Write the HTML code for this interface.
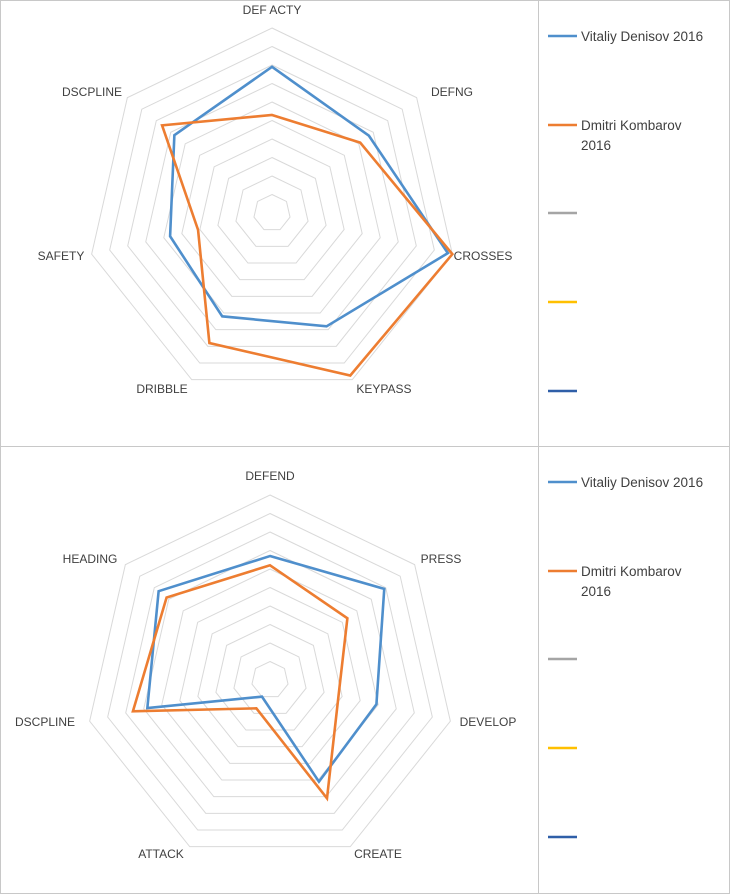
<!DOCTYPE html>
<html><head><meta charset="utf-8"><style>
html,body{margin:0;padding:0;background:#fff;width:730px;height:894px;overflow:hidden;font-family:"Liberation Sans",sans-serif}
svg{display:block}
</style></head><body>
<svg id="root" width="730" height="894">
<rect x="0.5" y="0.5" width="729" height="893" fill="#fff" stroke="#c8c8c8"/>
<line x1="0" y1="446.5" x2="730" y2="446.5" stroke="#c8c8c8"/>
<line x1="538.5" y1="0" x2="538.5" y2="894" stroke="#c8c8c8"/>
<g id="c1"></g>
<g id="c2"></g>
</svg>
<script>
const cats1 = ["DEF ACTY","DEFNG","CROSSES","KEYPASS","DRIBBLE","SAFETY","DSCPLINE"];
const denisov1 = [7.9,6.7,9.75,6.8,6.2,5.65,6.75];
const kombarov1 = [5.3,6.1,10,9.75,7.8,4.1,7.6];
const cats2 = ["DEFEND","PRESS","DEVELOP","CREATE","ATTACK","DSCPLINE","HEADING"];
const denisov2 = [6.7,7.9,5.9,6.1,1.0,6.8,7.7];
const kombarov2 = [6.2,5.35,3.8,7.1,1.7,7.6,7.15];
const legendNames = ["Vitaliy Denisov 2016","Dmitri Kombarov 2016","","",""];
const legendColors = ["#4f8fcc","#ed7d31","#a5a5a5","#ffc000","#2f5fa8"];
const maxVal = 10, rings = 10;
const NS="http://www.w3.org/2000/svg";
function mk(t,a,p){const e=document.createElementNS(NS,t);for(const k in a)e.setAttribute(k,a[k]);p.appendChild(e);return e;}
function drawRadar(g,cx,cy,R,cats,series,labelPos,legendY){
  const n=cats.length;
  const ang=i=>(-90+i*360/n)*Math.PI/180;
  const pt=(i,v)=>[cx+R*v/maxVal*Math.cos(ang(i)),cy+R*v/maxVal*Math.sin(ang(i))];
  for(let r=1;r<=rings;r++){
    const pts=cats.map((c,i)=>pt(i,r*maxVal/rings).join(",")).join(" ");
    const e=mk("polygon",{points:pts,fill:"none",stroke:"#d9d9d9","stroke-width":1},g);
    
    
  }
  cats.forEach((c,i)=>{
    const t=mk("text",{x:labelPos[i][0],y:labelPos[i][1],"text-anchor":"middle","font-size":"12",fill:"#404040"},g);
    t.textContent=c;
    
    
  });
  series.forEach((s,k)=>{
    const pts=s.map((v,i)=>pt(i,v).join(",")).join(" ");
    const e=mk("polygon",{points:pts,fill:"none",stroke:legendColors[k],"stroke-width":2.6,"stroke-linejoin":"miter"},g);
    
    
  });
  const ys=[0,89,177,266,355];
  legendNames.forEach((nm,k)=>{
    const y=legendY+ys[k];
    const l=mk("line",{x1:548,y1:y,x2:577,y2:y,stroke:legendColors[k],"stroke-width":2.6},g);
    
    
    if(nm){
      const t=mk("text",{x:581,y:y+5,"font-size":"13.5",fill:"#404040"},g);
      
      
      if(k===1){
        const a=mk("tspan",{x:581},t);a.textContent="Dmitri Kombarov";
        const b=mk("tspan",{x:581,dy:20},t);b.textContent="2016";
      } else t.textContent=nm;
    }
  });
}
drawRadar(document.getElementById("c1"),272,213,185,cats1,[denisov1,kombarov1],
 [[272,14],[452,96],[483,260],[384,393],[162,393],[61,260],[92,96]],36);
drawRadar(document.getElementById("c2"),270,680,185,cats2,[denisov2,kombarov2],
 [[270,480],[441,563],[488,726],[378,858],[161,858],[45,726],[90,563]],482);
</script>
</body></html>
